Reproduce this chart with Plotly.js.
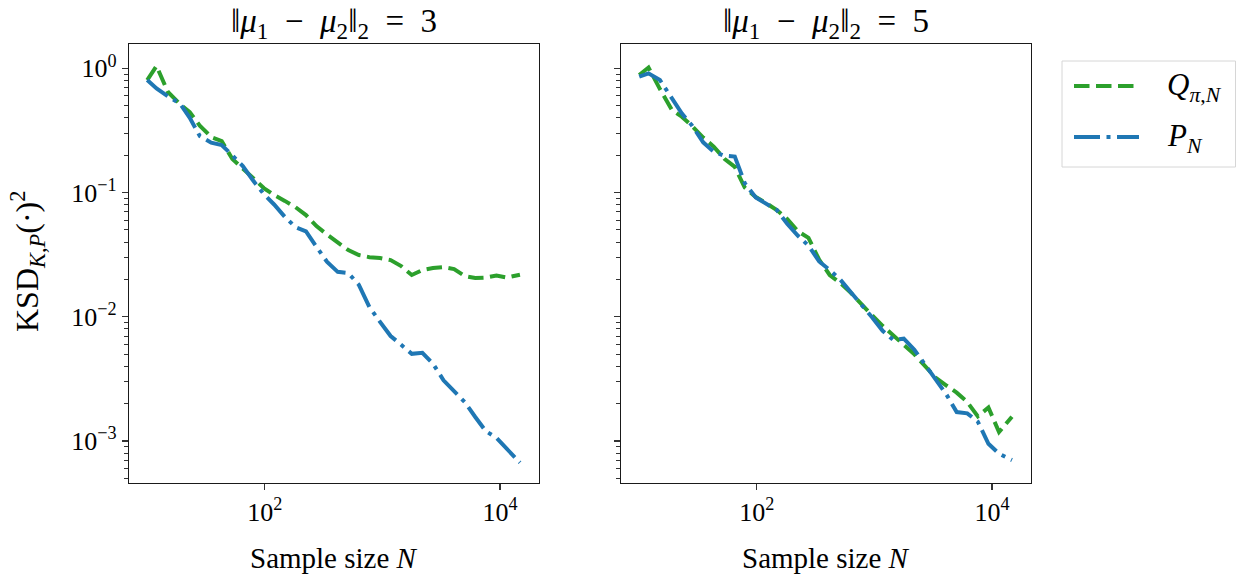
<!DOCTYPE html>
<html><head><meta charset="utf-8">
<script src="https://cdn.plot.ly/plotly-3.0.1.min.js"></script>
<style>html,body{margin:0;padding:0;background:#fff}#chart{width:1236px;height:577px}</style>
</head><body><div id="chart"></div>
<script>
// Sample sizes N (x values)
const sampleSizes = [10, 12, 15, 19, 23, 28, 35, 43, 53, 65, 79, 98, 120, 148, 182, 224, 275, 339, 417, 513, 631, 776, 955, 1175, 1445, 1778, 2188, 2692, 3311, 4074, 5012, 6166, 7586, 9333, 11482, 14791];

// Left panel: ||mu1 - mu2||_2 = 3
const leftQ = [0.805, 1.044, 0.645, 0.516, 0.444, 0.346, 0.280, 0.260, 0.186, 0.158, 0.132, 0.1087, 0.0955, 0.0857, 0.0764, 0.0659, 0.0537, 0.0459, 0.0399, 0.0344, 0.0314, 0.0302, 0.0297, 0.0286, 0.0256, 0.0217, 0.0238, 0.0247, 0.0251, 0.0242, 0.0213, 0.0205, 0.0207, 0.0215, 0.0207, 0.0218];
const leftP = [0.805, 0.689, 0.596, 0.520, 0.400, 0.285, 0.252, 0.2416, 0.199, 0.1634, 0.126, 0.0973, 0.0802, 0.0638, 0.0528, 0.0487, 0.0366, 0.0276, 0.0230, 0.0225, 0.0181, 0.01197, 0.0091, 0.0070, 0.00595, 0.00503, 0.00513, 0.0042, 0.00308, 0.00253, 0.00206, 0.00156, 0.0012, 0.00106, 0.000853, 0.00067];

// Right panel: ||mu1 - mu2||_2 = 5
const rightQ = [0.883, 1.015, 0.681, 0.462, 0.408, 0.345, 0.277, 0.2346, 0.187, 0.161, 0.1097, 0.092, 0.0823, 0.0723, 0.061, 0.0488, 0.0432, 0.0288, 0.0217, 0.0187, 0.0156, 0.01256, 0.01028, 0.00846, 0.00702, 0.00595, 0.00499, 0.00406, 0.00324, 0.00281, 0.00245, 0.00206, 0.00158, 0.00186, 0.00118, 0.00157];
const rightP = [0.856, 0.911, 0.805, 0.570, 0.434, 0.348, 0.2536, 0.2135, 0.198, 0.195, 0.119, 0.0912, 0.0818, 0.0723, 0.0558, 0.0449, 0.0374, 0.0279, 0.0238, 0.0199, 0.01575, 0.01265, 0.0099, 0.00772, 0.00652, 0.00667, 0.00543, 0.00413, 0.00319, 0.00239, 0.00171, 0.00167, 0.00143, 0.00095, 0.00079, 0.000702];

const NB = '\u00a0';
const subplotTitles = [
  '‖<i>μ</i><sub>1</sub>' + NB + NB + '−' + NB + NB + '<i>μ</i><sub>2</sub>‖<sub>2</sub>' + NB + NB + '=' + NB + NB + '3',
  '‖<i>μ</i><sub>1</sub>' + NB + NB + '−' + NB + NB + '<i>μ</i><sub>2</sub>‖<sub>2</sub>' + NB + NB + '=' + NB + NB + '5'
];
const seriesNames = ['<i>Q</i><sub><i>π</i>,<i>N</i></sub>', '<i>P</i><sub><i>N</i></sub>'];
const seriesColors = ['#2ca02c', '#1f77b4'];
const seriesDash = ['15.5px,6.5px', '26px,6.5px,4px,6.5px'];

const xTickVals = [100, 10000];
const xTickText = ['10<sup>2</sup>', '10<sup>4</sup>'];
const yTickVals = [1, 0.1, 0.01, 0.001];
const yTickText = ['10<sup>0</sup>', '10<sup>−1</sup>', '10<sup>−2</sup>', '10<sup>−3</sup>'];
const yTitle = 'KSD<sub><i>K</i>,<i>P</i></sub>(·)<sup>2</sup>';
const xTitle = 'Sample size <i>N</i>';

const minorDigits = [2, 3, 4, 5, 6, 7, 8, 9];
const minorDecades = [0.0001, 0.001, 0.01, 0.1, 1];
const yMinor = [];
minorDecades.forEach(d => minorDigits.forEach(m => yMinor.push(d * m)));

const FONT = '"Liberation Serif", "DejaVu Serif", serif';
const W = 1236, H = 577;
const px = v => v / W;
const py = v => 1 - v / H;

function line(i) {
  return {width: 4, color: seriesColors[i], dash: seriesDash[i]};
}
const traces = [
  {x: sampleSizes, y: leftQ, xaxis: 'x', yaxis: 'y', mode: 'lines', line: line(0), name: 'Q', showlegend: false},
  {x: sampleSizes, y: leftP, xaxis: 'x', yaxis: 'y', mode: 'lines', line: line(1), name: 'P', showlegend: false},
  {x: sampleSizes, y: rightQ, xaxis: 'x2', yaxis: 'y2', mode: 'lines', line: line(0), name: 'Q', showlegend: false},
  {x: sampleSizes, y: rightP, xaxis: 'x2', yaxis: 'y2', mode: 'lines', line: line(1), name: 'P', showlegend: false}
];

const baseAxis = {
  type: 'log', showline: true, mirror: true, linecolor: '#1a1a1a', linewidth: 1.2,
  showgrid: false, zeroline: false, ticks: 'outside', ticklen: 6, tickwidth: 1.1, tickcolor: '#333',
  tickfont: {family: FONT, size: 26, color: '#000'}, tickmode: 'array'
};
const xa = (dom) => Object.assign({}, baseAxis, {domain: dom, range: [0.845, 4.332], tickvals: xTickVals, ticktext: xTickText});
const ya = (anchor, labels) => Object.assign({}, baseAxis, {
  domain: [py(483), py(44)], range: [-3.338, 0.196], anchor: anchor,
  tickvals: yTickVals, ticktext: yTickText, showticklabels: labels,
  minor: {tickmode: 'array', tickvals: yMinor, ticks: 'outside', ticklen: 3.5, tickwidth: 1, tickcolor: '#333'}
});

const dom1 = [px(129), px(539)], dom2 = [px(621), px(1031)];
const annFont = {family: FONT, size: 33, color: '#000'};
const labFont = {family: FONT, size: 29, color: '#000'};
const annotations = [
  {text: subplotTitles[0], x: (dom1[0] + dom1[1]) / 2, y: py(24), xref: 'paper', yref: 'paper', showarrow: false, xanchor: 'center', yanchor: 'middle', font: annFont},
  {text: subplotTitles[1], x: (dom2[0] + dom2[1]) / 2, y: py(24), xref: 'paper', yref: 'paper', showarrow: false, xanchor: 'center', yanchor: 'middle', font: annFont},
  {text: xTitle, x: (dom1[0] + dom1[1]) / 2, y: py(558), xref: 'paper', yref: 'paper', showarrow: false, xanchor: 'center', yanchor: 'middle', font: labFont},
  {text: xTitle, x: (dom2[0] + dom2[1]) / 2, y: py(558), xref: 'paper', yref: 'paper', showarrow: false, xanchor: 'center', yanchor: 'middle', font: labFont},
  {text: yTitle, x: px(28), y: py(262), xref: 'paper', yref: 'paper', showarrow: false, xanchor: 'center', yanchor: 'middle', textangle: -90, font: {family: FONT, size: 32, color: '#000'}},
  {text: seriesNames[0], x: px(1165), y: py(87), xref: 'paper', yref: 'paper', showarrow: false, xanchor: 'left', yanchor: 'middle', font: {family: FONT, size: 31, color: '#000'}},
  {text: seriesNames[1], x: px(1165), y: py(138), xref: 'paper', yref: 'paper', showarrow: false, xanchor: 'left', yanchor: 'middle', font: {family: FONT, size: 31, color: '#000'}}
];
const shapes = [
  {type: 'rect', xref: 'paper', yref: 'paper', x0: px(1062), x1: px(1235.5), y0: py(61), y1: py(167), line: {color: '#d6d6d6', width: 1}, fillcolor: 'rgba(255,255,255,0.8)'},
  {type: 'line', xref: 'paper', yref: 'paper', x0: px(1074), x1: px(1139), y0: py(86), y1: py(86), line: line(0)},
  {type: 'line', xref: 'paper', yref: 'paper', x0: px(1074), x1: px(1139), y0: py(137), y1: py(137), line: line(1)}
];

const layout = {
  width: W, height: H, autosize: false,
  margin: {l: 0, r: 0, t: 0, b: 0},
  paper_bgcolor: '#fff', plot_bgcolor: '#fff',
  showlegend: false,
  xaxis: xa(dom1), yaxis: ya('x', true),
  xaxis2: Object.assign(xa(dom2), {anchor: 'y2'}), yaxis2: Object.assign(ya('x2', false), {matches: 'y'}),
  annotations: annotations, shapes: shapes
};
layout.xaxis.anchor = 'y';
Plotly.newPlot('chart', traces, layout, {displayModeBar: false, staticPlot: true});
</script></body></html>
